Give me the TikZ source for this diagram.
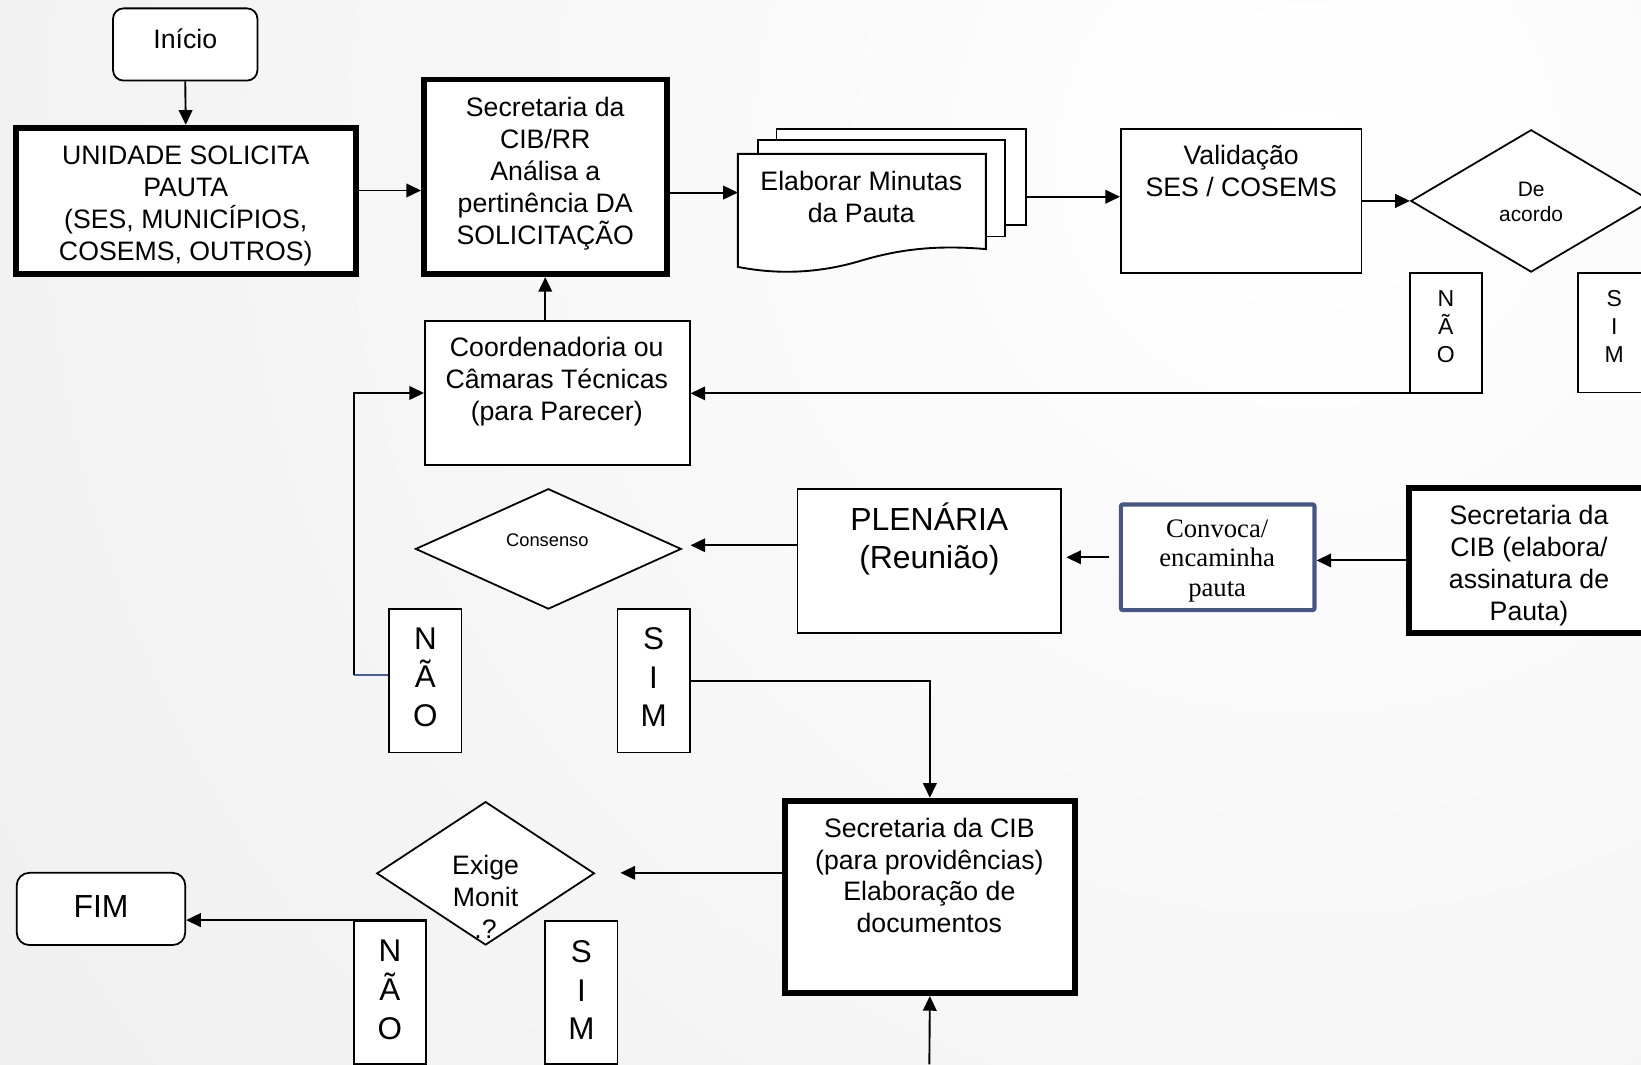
\documentclass[tikz,border=0pt]{standalone}
\usepackage{fontspec}
\setmainfont{Liberation Sans}
\newfontfamily\convfont{Liberation Serif}
\usetikzlibrary{arrows.meta,shapes.geometric,calc}
\definecolor{bgedge}{RGB}{224,224,224}
\definecolor{navyframe}{RGB}{70,86,135}
\definecolor{loopblue}{RGB}{72,92,160}
\newcommand\fMain{\fontsize{25.5pt}{30.5pt}\selectfont}
\newcommand\fBig{\fontsize{30.5pt}{37pt}\selectfont}
\newcommand\fDec{\fontsize{20pt}{24pt}\selectfont}
\newcommand\fSmall{\fontsize{17.5pt}{21pt}\selectfont}
\newcommand\fLetA{\fontsize{22pt}{27pt}\selectfont}
\newcommand\fLetB{\fontsize{30pt}{37pt}\selectfont}
\newcommand\fConv{\convfont\fontsize{25.5pt}{28pt}\selectfont}
\begin{document}
\begin{tikzpicture}[x=1pt,y=-1pt,
  box/.style={draw, fill=white, line width=1.7pt, inner sep=0pt, align=center, font=\fMain},
  heavy/.style={box, line width=5.5pt},
  letterbox/.style={box, minimum width=69pt},
  decision/.style={draw, fill=white, diamond, line width=1.7pt, inner sep=0pt},
  txt/.style={inner sep=0pt, align=center, font=\fMain},
  link/.style={line width=1.8pt},
  arr/.style={line width=1.8pt, -{Triangle[length=14pt,width=13pt]}},
]
% page and soft background
\useasboundingbox (0,0) rectangle (1568,1017);
\clip (0,0) rectangle (1568,1017);
\fill[bgedge] (0,0) rectangle (1568,1017);
\shade[inner color=white, outer color=bgedge] (1250,150) circle (3000pt);

% start and request
\node[box, rounded corners=10pt, minimum width=138pt, minimum height=69pt] (inicio) at (177,42.5) {};
\node[txt] (inicioT) at (177,37) {Início};
\node[heavy, minimum width=325pt, minimum height=140pt] (unidade) at (177.5,192) {};
\node[txt] (unidadeT) at (177.5,196.5) {UNIDADE SOLICITA\\PAUTA\\(SES, MUNICÍPIOS,\\COSEMS, OUTROS)};
\node[heavy, minimum width=232pt, minimum height=186pt] (sec1) at (521,169) {};
\node[txt] (sec1T) at (521,166) {Secretaria da\\CIB/RR\\Análisa a\\pertinência DA\\SOLICITAÇÃO};

% stacked documents
\draw[link, fill=white] (742,123) rectangle (980,215);
\draw[link, fill=white] (724,134) rectangle (960,226);
\draw[link, fill=white] (705,147) -- (942,147) -- (942,238)
  .. controls (895,234) and (860,238) .. (823,249)
  .. controls (780,262) and (740,262) .. (705,255) -- cycle;
\node[txt] (docT) at (823,188) {Elaborar Minutas\\da Pauta};
\coordinate (docin) at (705,184);
\coordinate (docout) at (980,188);

% validation
\node[box, minimum width=230pt, minimum height=138pt] (val) at (1186,192) {};
\node[txt] (valT) at (1186,163.5) {Validação\\SES / COSEMS};
\node[decision, minimum width=230pt, minimum height=136pt] (acordo) at (1463,192) {};
\node[txt, font=\fDec] (acordoT) at (1463,192.5) {De\\acordo};
\node[letterbox, minimum height=114pt] (nao1) at (1381.5,318) {};
\node[txt, font=\fLetA] (nao1T) at (1381.5,312) {N\\Ã\\O};
\node[letterbox, minimum height=114pt] (sim1) at (1542.5,318) {};
\node[txt, font=\fLetA] (sim1T) at (1542.5,312) {S\\I\\M};

% technical chambers
\node[box, minimum width=253pt, minimum height=137pt] (coord) at (532.5,375.5) {};
\node[txt] (coordT) at (532,365) {Coordenadoria ou\\Câmaras Técnicas\\(para Parecer)};

% plenary row
\node[decision, minimum width=254pt, minimum height=115pt] (cons) at (524,524.5) {};
\node[txt, font=\fSmall] (consT) at (523,516.5) {Consenso};
\node[box, minimum width=252pt, minimum height=138pt] (plen) at (888,536) {};
\node[txt, font=\fBig] (plenT) at (888,515) {PLENÁRIA\\(Reunião)};
\node[box, draw=navyframe, line width=4pt, rounded corners=2pt, minimum width=185pt,
  minimum height=101pt] (conv) at (1163.5,532.5) {};
\node[txt, font=\fConv] (convT) at (1163,536) {Convoca/\\encaminha\\pauta};
\node[heavy, minimum width=230pt, minimum height=139pt] (elab) at (1461,535.5) {};
\node[txt] (elabT) at (1461,540.5) {Secretaria da\\CIB (elabora/\\assinatura de\\Pauta)};
\node[letterbox, minimum height=137pt] (nao2) at (406.5,650.5) {};
\node[txt, font=\fLetB] (nao2T) at (406.5,647) {N\\Ã\\O};
\node[letterbox, minimum height=137pt] (sim2) at (624.5,650.5) {};
\node[txt, font=\fLetB] (sim2T) at (624.5,647) {S\\I\\M};

% follow-up
\node[heavy, minimum width=277pt, minimum height=184pt] (prov) at (888.5,857) {};
\node[txt] (provT) at (888,836.5) {Secretaria da CIB\\(para providências)\\Elaboração de\\documentos};
\node[decision, minimum width=208pt, minimum height=137pt] (exige) at (464,834.5) {};
\node[txt] (exigeT) at (464,857) {Exige\\Monit\\.?};
\node[letterbox, minimum height=137pt] (nao3) at (372.5,948.5) {};
\node[txt, font=\fLetB] (nao3T) at (372.5,946) {N\\Ã\\O};
\node[letterbox, minimum height=137pt] (sim3) at (555.5,948.5) {};
\node[txt, font=\fLetB] (sim3T) at (555.5,946) {S\\I\\M};
\node[box, rounded corners=12pt, minimum width=161pt, minimum height=69pt] (fim) at (96.5,868.5) {};
\node[txt, font=\fBig] (fimT) at (96.5,866.5) {FIM};
\coordinate (loop) at (338,645);
\coordinate (below) at (888,1017);

% connectors
\draw[arr] (inicio.south) -- (unidade.north);
\draw[arr] ([yshift=10pt]unidade.east) -- ([yshift=10pt]unidade.east -| sec1.west);
\draw[arr] ([yshift=-15pt]sec1.east) -- (docin);
\draw[arr] (docout) -- (docout -| val.west);
\draw[arr] (val.east) -- (acordo.west);
\draw[arr] (nao1.south east) -- (nao1.south east -| coord.east);
\draw[arr] (coord.north -| sec1.south) -- (sec1.south);
\draw[link, loopblue] (nao2.west |- loop) -- (loop);
\draw[arr] (loop) |- (coord.west);
\draw[arr, shorten >=8pt] ([yshift=15pt]plen.west) -- ([yshift=15pt]plen.west -| cons.east);
\draw[arr, shorten <=9pt, shorten >=4pt] (conv.west) -- (conv.west -| plen.east);
\draw[arr] (elab.west) -- (elab.west -| conv.east);
\draw[arr] (sim2.east) -| (prov.north);
\draw[arr] (below) -- (prov.south);
\draw[arr, shorten >=24pt] ([yshift=23pt]prov.west) -- ([yshift=23pt]prov.west -| exige.east);
\draw[arr] (nao3.north east) -- (nao3.north east -| fim.east);
\end{tikzpicture}
\end{document}
